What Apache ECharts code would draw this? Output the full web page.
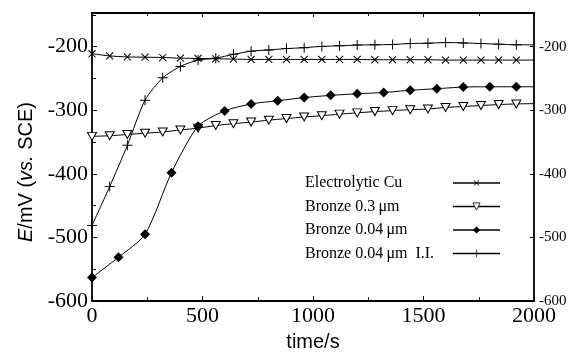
<!DOCTYPE html>
<html>
<head>
<meta charset="utf-8">
<script src="https://cdn.jsdelivr.net/npm/echarts@6/dist/echarts.min.js"></script>
<style>
  html, body { margin: 0; padding: 0; background: #fff; }
  #chart { width: 576px; height: 357px; }
</style>
</head>
<body>
<div id="chart"></div>
<script>
// sample times (s)
const time80 = [0, 80, 160, 240, 320, 400, 480, 560, 640, 720, 800, 880, 960, 1040, 1120, 1200, 1280, 1360, 1440, 1520, 1600, 1680, 1760, 1840, 1920];
const time120 = [0, 120, 240, 360, 480, 600, 720, 840, 960, 1080, 1200, 1320, 1440, 1560, 1680, 1800, 1920];
const endTime = 2000;

// potentials (mV vs. SCE)
const cuE = [-211, -214.5, -216, -216.5, -217, -218, -218.5, -219, -219.5, -220, -220, -220, -220, -220, -220, -220, -220.5, -220.5, -220.5, -220.5, -221, -221, -221, -221, -221];
const bronze03E = [-341, -340, -338, -336, -334, -331, -328, -324, -321, -318.5, -315.5, -313, -310.5, -308.5, -306, -304, -302, -300.5, -299, -298, -295.5, -294, -292.5, -291, -290];
const bronze004E = [-563, -531, -495, -398, -325, -301, -290, -285, -280, -276.5, -274, -272, -268.5, -266, -263.5, -263, -263];
const bronze004iiE = [-481, -420, -355, -284, -249, -231, -221, -218, -212, -207, -205, -203, -201.5, -199.5, -198.5, -197.5, -197, -196.5, -195, -194.5, -193.5, -194, -195, -196, -197];
// value where each curve meets the right frame
const endE = [-221, -289.5, -263, -197];

const names = ['Electrolytic Cu', 'Bronze 0.3\u2009\u03bcm', 'Bronze 0.04\u2009\u03bcm', 'Bronze 0.04\u2009\u03bcm  I.I.'];
const xTicks = [0, 500, 1000, 1500, 2000];
const yTicks = [-600, -500, -400, -300, -200];

const SERIF = '"Liberation Serif", "Times New Roman", serif';
const SANS = '"Liberation Sans", Arial, sans-serif';

const plusPath = 'path://M4.5,0H5.5V4.5H10V5.5H5.5V10H4.5V5.5H0V4.5H4.5Z';
const downTriPath = 'path://M0,0L10,0L5,9Z';

function buildData(times, values, endValue) {
    const data = times.map((t, i) => [t, values[i]]);
    data.push({ value: [endTime, endValue], symbol: 'none' });
    return data;
}

function yLabel(v) {
    return yTicks.indexOf(v) >= 0 ? String(v) : '';
}
function xLabel(v) {
    return xTicks.indexOf(v) >= 0 ? String(v) : '';
}

const chart = echarts.init(document.getElementById('chart'), null, { renderer: 'canvas' });

const baseLine = { color: '#000', width: 1 };
const SMOOTH = 0.25;

const option = {
    backgroundColor: '#fff',
    animation: false,
    grid: { left: 92, right: 42, top: 13, bottom: 50 },
    legend: {
        orient: 'vertical',
        left: 300,
        top: 170,
        align: 'right',
        itemWidth: 47,
        itemHeight: 9,
        itemGap: 7.5,
        selectedMode: false,
        lineStyle: { width: 1.5, color: '#000' },
        formatter: name => '{t|' + name + '}',
        textStyle: {
            fontFamily: SERIF, fontSize: 16, color: '#000',
            rich: { t: { width: 143, align: 'left', fontFamily: SERIF, fontSize: 16, color: '#000', lineHeight: 16 } }
        },
        data: [
            { name: names[0] },
            { name: names[1], itemStyle: { color: '#fff', borderColor: '#000', borderWidth: 0.8 } },
            { name: names[2] },
            { name: names[3] }
        ]
    },
    xAxis: [{
        type: 'value',
        min: 0, max: 2000, interval: 500,
        name: 'time/s',
        nameLocation: 'middle',
        nameGap: 30,
        nameTextStyle: { fontFamily: SANS, fontSize: 20, color: '#000' },
        axisLine: { lineStyle: { color: '#000', width: 1.8 } },
        axisTick: { inside: true, length: 5, lineStyle: { color: '#000', width: 1 } },
        minorTick: { show: true, splitNumber: 2, length: 4, lineStyle: { color: '#000', width: 1 } },
        axisLabel: { formatter: xLabel, fontFamily: SERIF, fontSize: 22, color: '#000', margin: 4 },
        splitLine: { show: false }
    }, {
        type: 'value',
        position: 'top',
        min: 0, max: 2000, interval: 500,
        axisLine: { lineStyle: { color: '#000', width: 1.8 } },
        axisTick: { inside: true, length: 4, lineStyle: { color: '#000', width: 1 } },
        minorTick: { show: true, splitNumber: 2, length: 3, lineStyle: { color: '#000', width: 1 } },
        axisLabel: { show: false },
        splitLine: { show: false }
    }],
    yAxis: [{
        type: 'value',
        min: -600, max: -147, interval: 100,
        axisLine: { onZero: false, lineStyle: { color: '#000', width: 1.8 } },
        axisTick: { inside: true, length: 5, lineStyle: { color: '#000', width: 1 } },
        minorTick: { show: true, splitNumber: 2, length: 4, lineStyle: { color: '#000', width: 1 } },
        axisLabel: { formatter: yLabel, fontFamily: SERIF, fontSize: 22, color: '#000', margin: 4 },
        splitLine: { show: false }
    }, {
        type: 'value',
        position: 'right',
        min: -600, max: -147, interval: 100,
        axisLine: { onZero: false, lineStyle: { color: '#000', width: 1.8 } },
        axisTick: { inside: true, length: 4, lineStyle: { color: '#000', width: 1 } },
        axisLabel: { formatter: yLabel, fontFamily: SERIF, fontSize: 15, color: '#000', margin: 5 },
        splitLine: { show: false }
    }],
    graphic: [{
        type: 'text',
        x: 26,
        y: 172,
        rotation: Math.PI / 2,
        style: {
            text: '{i|E}/mV ({i|vs.} SCE)',
            fontFamily: SANS,
            fontSize: 20,
            fill: '#000',
            align: 'center',
            verticalAlign: 'middle',
            rich: { i: { fontStyle: 'italic', fontFamily: SANS, fontSize: 20, fill: '#000' } }
        }
    }],
    series: [{
        name: names[0],
        type: 'line',
        smooth: SMOOTH,
        data: buildData(time80, cuE, endE[0]),
        symbol: plusPath,
        symbolRotate: 45,
        symbolSize: 10,
        showAllSymbol: true,
        lineStyle: baseLine,
        itemStyle: { color: '#000' },
        z: 3
    }, {
        name: names[1],
        type: 'line',
        smooth: SMOOTH,
        data: buildData(time80, bronze03E, endE[1]),
        symbol: downTriPath,
        symbolSize: [9, 8],
        showAllSymbol: true,
        lineStyle: baseLine,
        itemStyle: { color: '#fff', borderColor: '#000', borderWidth: 1 },
        z: 3
    }, {
        name: names[2],
        type: 'line',
        smooth: SMOOTH,
        data: buildData(time120, bronze004E, endE[2]),
        symbol: 'diamond',
        symbolSize: 10,
        showAllSymbol: true,
        lineStyle: baseLine,
        itemStyle: { color: '#000' },
        z: 3
    }, {
        name: names[3],
        type: 'line',
        smooth: SMOOTH,
        data: buildData(time80, bronze004iiE, endE[3]),
        symbol: plusPath,
        symbolSize: 10,
        showAllSymbol: true,
        lineStyle: baseLine,
        itemStyle: { color: '#000' },
        z: 3
    }]
};

chart.setOption(option);
</script>
</body>
</html>
